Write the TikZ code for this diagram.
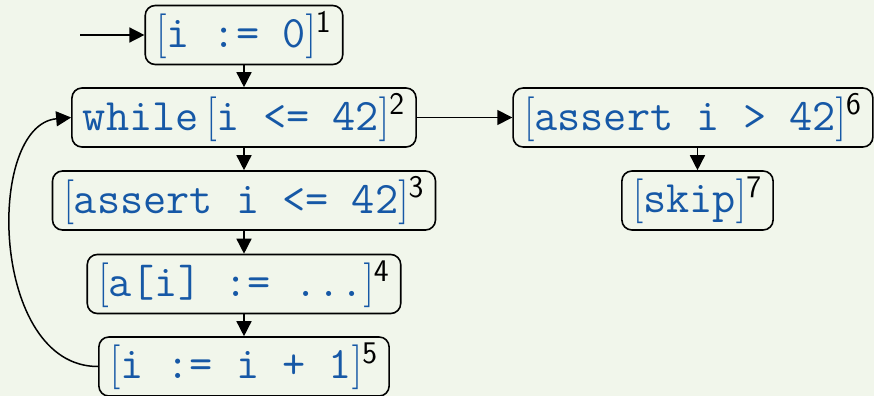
\documentclass[tikz,border=0pt]{standalone}
\usepackage{fontspec}
\usepackage{amsmath}
\usetikzlibrary{arrows.meta}
\definecolor{bg}{RGB}{241,246,235}
\definecolor{code}{RGB}{22,88,166}
\newcommand{\lab}[2]{{\color{code}\scalebox{1}[1.08]{$[$}\texttt{#1}\scalebox{1}[1.08]{$]$}}$^{\textsf{#2}}$}
\begin{document}
\begin{tikzpicture}[x=0.5pt,y=-0.5pt,
  box/.style={draw, rounded corners=5pt, line width=0.8pt, inner xsep=5.5pt, inner ysep=2pt,
    minimum height=29.5pt, font=\fontsize{22.5}{27}\selectfont},
  arr/.style={-{Triangle[length=7.5pt,width=7.5pt]}, line width=0.75pt}]
\fill[bg] (0,0) rectangle (874,396);
\useasboundingbox (0,0) rectangle (874,396);
\node[box] (n1) at (244,35) {\lab{i := 0}{1}};
\node[box] (n2) at (244,117.5) {{\color{code}\texttt{while}}\,\lab{i <= 42}{2}};
\node[box] (n3) at (244,200.5) {\lab{assert i <= 42}{3}};
\node[box] (n4) at (244,284) {\lab{a[i] := ...}{4}};
\node[box] (n5) at (244,366.5) {\lab{i := i + 1}{5}};
\node[box] (n6) at (693,117.5) {\lab{assert i > 42}{6}};
\node[box] (n7) at (697.5,200.5) {\lab{skip}{7}};
\coordinate (start) at (80,35);
\draw[arr] (start) -- (n1);
\draw[arr] (n1) -- (n2);
\draw[arr] (n2) -- (n3);
\draw[arr] (n3) -- (n4);
\draw[arr] (n4) -- (n5);
\draw[arr] (n2) -- (n6);
\draw[arr] (n6.south -| n7.north) -- (n7.north);
\draw[arr] (n5.west) .. controls (-10,367) and (-15,125) .. (n2.west);
\end{tikzpicture}
\end{document}
